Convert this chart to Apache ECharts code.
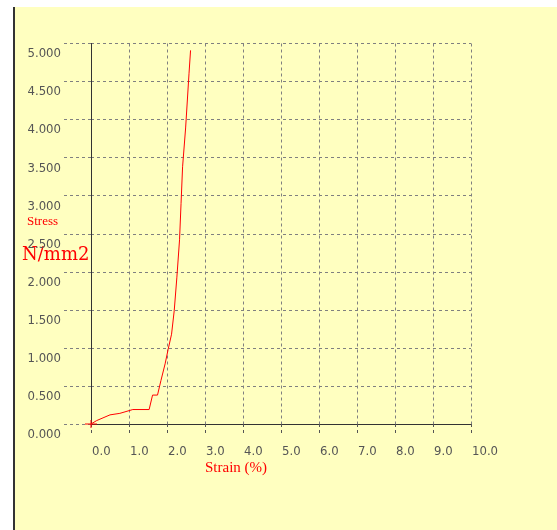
<!DOCTYPE html>
<html><head><meta charset="utf-8">
<script src="https://cdn.jsdelivr.net/npm/echarts@6/dist/echarts.min.js"></script>
<style>
html,body{margin:0;padding:0;background:#fff;width:557px;height:530px;overflow:hidden}
#bg{position:absolute;left:13px;top:7px;width:544px;height:523px;background:#FFFFC0;border-left:2px solid #333;box-sizing:border-box}
#c{position:absolute;left:0;top:0;width:557px;height:530px}
</style></head>
<body>
<div id="bg"></div>
<div id="c"></div>
<script>
// Strain (%) and Stress (N/mm2)
const strain = [0, 0.15, 0.5, 0.76, 1.1, 1.53, 1.62, 1.75, 1.84, 1.95, 2.03, 2.12, 2.19, 2.26, 2.33, 2.37, 2.41, 2.49, 2.58, 2.62];
const stress = [0, 0.045, 0.12, 0.14, 0.19, 0.19, 0.38, 0.38, 0.57, 0.79, 0.98, 1.18, 1.49, 1.93, 2.42, 2.9, 3.38, 3.89, 4.61, 4.91];
const xTicks = [0,1,2,3,4,5,6,7,8,9,10];
const yTicks = [0,0.5,1,1.5,2,2.5,3,3.5,4,4.5,5];

const chart = echarts.init(document.getElementById('c'), null, {renderer:'canvas'});
const gridColor = '#808080';
const labelFont = {fontFamily:'DejaVu Sans Condensed', fontSize:13, color:'#555'};
const data = strain.map((s,i)=> i===0
  ? {value:[s,stress[i]], symbol:'path://M0,3.5L12,3.5L12,4.5L0,4.5ZM5.5,0L6.5,0L6.5,8L5.5,8Z', symbolSize:[12,8]}
  : [s, stress[i]]);
chart.setOption({
  backgroundColor:'transparent',
  animation:false,
  grid:{left:91, right:86, top:43.5, bottom:106},
  xAxis:{
    type:'value', min:0, max:10, interval:1,
    axisLine:{lineStyle:{color:'#333', width:1}},
    axisTick:{show:true, length:12, lineStyle:{color:'#555', type:[3,3]}},
    splitLine:{show:true, lineStyle:{color:gridColor, type:[3,3]}},
    axisLabel:Object.assign({margin:21, align:'left', padding:[0,0,0,1], formatter:v=>v.toFixed(1)}, labelFont)
  },
  yAxis:{
    type:'value', min:0, max:5, interval:0.5,
    axisLine:{show:true, lineStyle:{color:'#333', width:1}},
    axisTick:{show:true, length:30, lineStyle:{color:gridColor, type:[3,3]}},
    splitLine:{show:true, lineStyle:{color:gridColor, type:[3,3]}},
    axisLabel:Object.assign({margin:30, verticalAlign:'top', padding:[4,0,0,0], formatter:v=>v.toFixed(3)}, labelFont)
  },
  graphic:[
    {type:'text', left:27, top:215, style:{text:'Stress', fill:'#f00', font:'13px "Liberation Serif"'}},
    {type:'text', left:22, top:246, style:{text:'N/mm2', fill:'#f00', font:'18px "DejaVu Serif"'}},
    {type:'text', left:205, top:461, style:{text:'Strain (%)', fill:'#f00', font:'15px "Liberation Serif"'}}
  ],
  series:[{
    type:'line', data:data, symbol:'none', showSymbol:true,
    itemStyle:{color:'#f00'},
    lineStyle:{color:'#f00', width:1}
  }]
});
</script>
</body></html>
